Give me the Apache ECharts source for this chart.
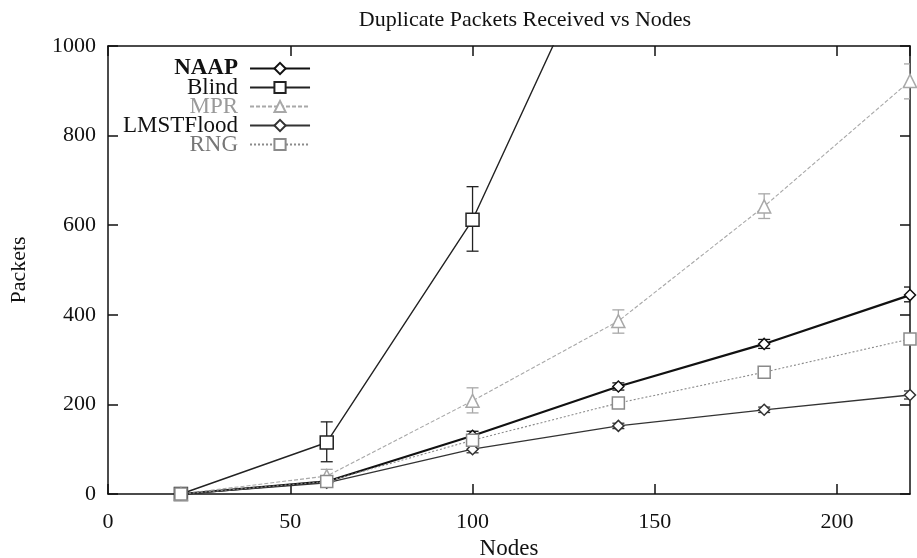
<!DOCTYPE html>
<html>
<head>
<meta charset="utf-8">
<script src="https://cdn.jsdelivr.net/npm/echarts@6/dist/echarts.min.js"></script>
<style>
  html, body { margin: 0; padding: 0; background: #fff; }
  #chart { width: 917px; height: 558px; }
</style>
</head>
<body>
<div id="chart"></div>
<script>
// Number of nodes in each simulation run
const nodes = [20, 60, 100, 140, 180, 220];

// Mean duplicate packets received per protocol
const naap  = [0, 28, 130, 240, 335, 444];
const blind = [0, 115, 612, 1316];
const mpr   = [0, 40, 208, 386, 642, 922];
const lmst  = [0, 25, 100, 152, 188, 221];
const rng   = [0, 28, 120, 203, 272, 346];

// Error bar extents (low, high)
const naapLow  = [0, 22, 120, 232, 325, 429];
const naapHigh = [0, 34, 140, 248, 345, 462];
const blindLow  = [0, 72, 542];
const blindHigh = [0, 161, 686];
const mprLow  = [0, 28, 181, 359, 615, 882];
const mprHigh = [0, 55, 237, 411, 670, 960];
const lmstLow  = [0, 20, 92, 146, 182, 212];
const lmstHigh = [0, 30, 108, 158, 194, 230];
const rngLow  = [0, 22, 112, 195, 262, 335];
const rngHigh = [0, 34, 128, 211, 282, 357];

const xTicks = { min: 0, max: 220, interval: 50 };
const yTicks = { min: 0, max: 1000, interval: 200 };

const FONT = '"Liberation Serif", "DejaVu Serif", serif';

function pairs(xs, ys) {
  return ys.map((y, i) => [xs[i], y]);
}
function triples(xs, lo, hi) {
  return lo.map((l, i) => [xs[i], l, hi[i]]);
}

function errorBars(name, color, lo, hi) {
  return {
    name: name + ' err',
    type: 'custom',
    clip: true,
    silent: true,
    z: 1,
    data: triples(nodes, lo, hi),
    renderItem: function (params, api) {
      const x = api.value(0);
      const top = api.coord([x, api.value(2)]);
      const bot = api.coord([x, api.value(1)]);
      const hw = 6;
      const style = { stroke: color, lineWidth: 1.3, fill: null };
      return {
        type: 'group',
        children: [
          { type: 'line', shape: { x1: top[0], y1: top[1], x2: bot[0], y2: bot[1] }, style: style },
          { type: 'line', shape: { x1: top[0] - hw, y1: top[1], x2: top[0] + hw, y2: top[1] }, style: style },
          { type: 'line', shape: { x1: bot[0] - hw, y1: bot[1], x2: bot[0] + hw, y2: bot[1] }, style: style }
        ]
      };
    }
  };
}

function lineSeries(name, values, color, width, dash, symbol, size) {
  return {
    name: name,
    type: 'line',
    data: pairs(nodes, values),
    clip: true,
    z: 3,
    symbol: symbol,
    symbolSize: size,
    showAllSymbol: true,
    lineStyle: { color: color, width: width, type: dash },
    itemStyle: { color: '#fff', borderColor: color, borderWidth: 1.5 },
    emphasis: { disabled: true }
  };
}

const chart = echarts.init(document.getElementById('chart'), null, { renderer: 'canvas' });

function axisStyle() {
  return {
    axisLine: { show: true, onZero: false, lineStyle: { color: '#111', width: 1.5 } },
    axisTick: { show: true, inside: true, length: 10, lineStyle: { color: '#111', width: 1.5 } },
    splitLine: { show: false }
  };
}

const tickLabel = { fontFamily: FONT, fontSize: 22, color: '#111' };

chart.setOption({
  backgroundColor: '#fff',
  animation: false,
  title: {
    text: 'Duplicate Packets Received vs Nodes',
    left: 520,
    top: 4,
    textAlign: 'center',
    textStyle: { fontFamily: FONT, fontSize: 22, fontWeight: 'normal', color: '#111' }
  },
  grid: { left: 108, right: 7, top: 46, bottom: 64, outerBoundsMode: 'none', containLabel: false },
  legend: {
    orient: 'vertical',
    align: 'right',
    left: 118,
    top: 52,
    itemWidth: 60,
    itemHeight: 14,
    itemGap: -4,
    selectedMode: false,
    textStyle: { fontFamily: FONT, fontSize: 23, lineHeight: 16, color: '#111', padding: [0, 7, 0, 0] },
    data: [
      { name: 'NAAP', textStyle: { fontWeight: 'bold', color: '#111' } },
      { name: 'Blind', textStyle: { color: '#111' } },
      { name: 'MPR', textStyle: { color: '#9a9a9a' } },
      { name: 'LMSTFlood', textStyle: { color: '#111' } },
      { name: 'RNG', textStyle: { color: '#777' } }
    ]
  },
  xAxis: [
    Object.assign(axisStyle(), {
      type: 'value',
      position: 'bottom',
      min: xTicks.min, max: xTicks.max, interval: xTicks.interval,
      name: 'Nodes',
      nameLocation: 'middle',
      nameGap: 38,
      nameTextStyle: { fontFamily: FONT, fontSize: 23, color: '#111' },
      axisLabel: Object.assign({ margin: 17, showMaxLabel: false }, tickLabel)
    }),
    Object.assign(axisStyle(), {
      type: 'value',
      position: 'top',
      min: xTicks.min, max: xTicks.max, interval: xTicks.interval,
      axisLabel: { show: false }
    })
  ],
  yAxis: [
    Object.assign(axisStyle(), {
      type: 'value',
      position: 'left',
      min: yTicks.min, max: yTicks.max, interval: yTicks.interval,
      name: 'Packets',
      nameLocation: 'middle',
      nameGap: 78,
      nameRotate: 90,
      nameTextStyle: { fontFamily: FONT, fontSize: 22, color: '#111' },
      axisLabel: Object.assign({ margin: 12, formatter: v => String(v) }, tickLabel)
    }),
    Object.assign(axisStyle(), {
      type: 'value',
      position: 'right',
      min: yTicks.min, max: yTicks.max, interval: yTicks.interval,
      axisLabel: { show: false }
    })
  ],
  series: [
    errorBars('NAAP', '#111', naapLow, naapHigh),
    errorBars('Blind', '#222', blindLow, blindHigh),
    errorBars('MPR', '#a8a8a8', mprLow, mprHigh),
    errorBars('LMSTFlood', '#333', lmstLow, lmstHigh),
    errorBars('RNG', '#8a8a8a', rngLow, rngHigh),
    lineSeries('NAAP', naap, '#111', 2.2, 'solid', 'diamond', 11),
    lineSeries('Blind', blind, '#222', 1.4, 'solid', 'rect', 13),
    lineSeries('MPR', mpr, '#a8a8a8', 1.1, [4, 2], 'triangle', 13),
    lineSeries('LMSTFlood', lmst, '#333', 1.3, 'solid', 'diamond', 11),
    lineSeries('RNG', rng, '#8a8a8a', 1.1, [2, 2], 'rect', 12)
  ]
});
</script>
</body>
</html>
